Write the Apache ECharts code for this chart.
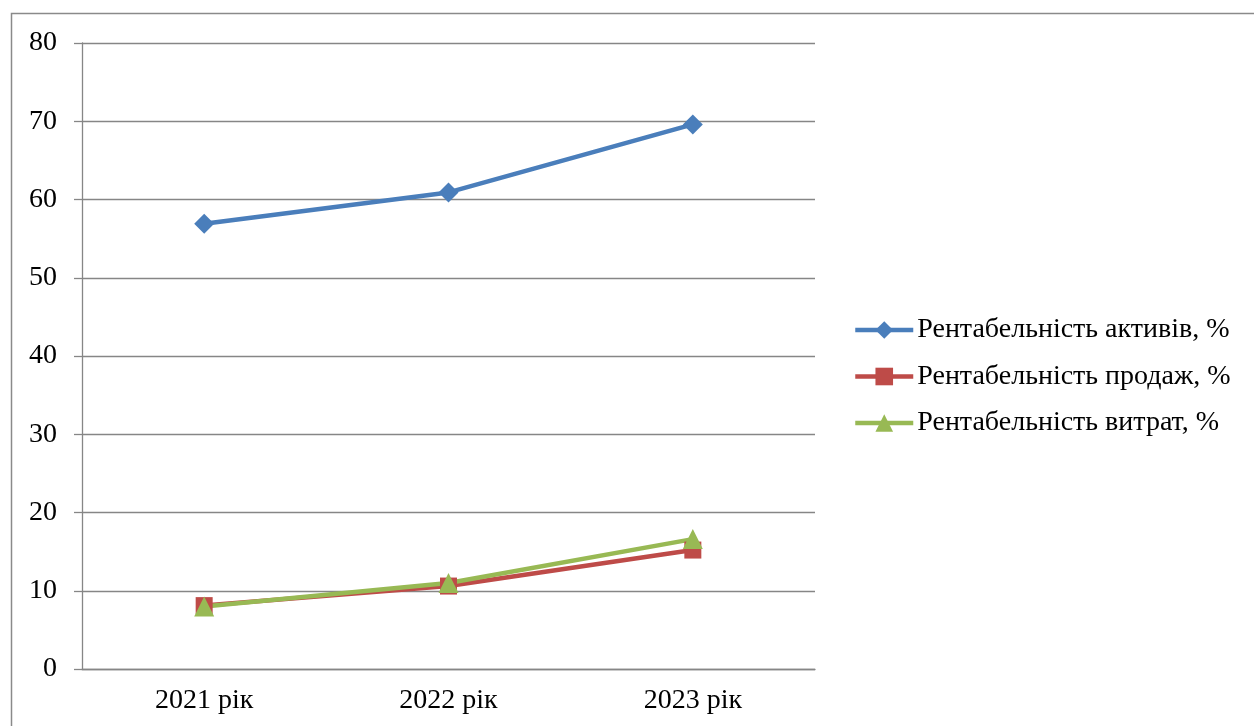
<!DOCTYPE html>
<html><head><meta charset="utf-8">
<script src="https://cdn.jsdelivr.net/npm/echarts@6/dist/echarts.min.js"></script>
<style>html,body{margin:0;padding:0;background:#fff}#c{width:1254px;height:726px}</style>
</head><body><div id="c"></div>
<script>
const categories = ['2021 рік', '2022 рік', '2023 рік'];
const seriesNames = ['Рентабельність активів, %', 'Рентабельність продаж, %', 'Рентабельність витрат, %'];
const assets = [56.9, 60.9, 69.6];
const sales = [8.1, 10.6, 15.2];
const costs = [8.0, 11.0, 16.6];
const yTicks = {min: 0, max: 80, interval: 10};

const FONT = 'Liberation Serif';
const FS = 28;
const chart = echarts.init(document.getElementById('c'));
chart.setOption({
  animation: false,
  textStyle: {fontFamily: FONT},
  graphic: [{type: 'rect', left: 9, top: 11, shape: {width: 1300, height: 800},
    style: {fill: 'none', stroke: '#8a8a8a', lineWidth: 1.5}, silent: true}],
  grid: {left: 82, top: 43, width: 733, height: 626},
  legend: {
    orient: 'vertical', left: 853, top: 315, padding: 0, itemWidth: 58, itemHeight: 22, itemGap: 16.5,
    lineStyle: {width: 4.5},
    textStyle: {fontFamily: FONT, fontSize: FS, lineHeight: 30, color: '#000', padding: [0, 0, 0, -1]},
    data: seriesNames
  },
  xAxis: {
    type: 'category', data: categories, boundaryGap: true,
    axisLine: {lineStyle: {color: '#868686', width: 1.3}},
    axisTick: {length: 9, lineStyle: {color: '#868686', width: 1.3}},
    axisLabel: {color: '#000', fontSize: FS, fontFamily: FONT, margin: 18}
  },
  yAxis: {
    type: 'value', min: yTicks.min, max: yTicks.max, interval: yTicks.interval,
    axisLine: {show: true, lineStyle: {color: '#868686', width: 1.3}},
    axisTick: {show: true, length: 8, lineStyle: {color: '#868686', width: 1.3}},
    splitLine: {lineStyle: {color: '#868686', width: 1.3}},
    axisLabel: {color: '#000', fontSize: FS, fontFamily: FONT, margin: 25}
  },
  series: [
    {name: seriesNames[0], type: 'line', data: assets, symbol: 'diamond', symbolSize: 20,
      lineStyle: {color: '#4A7EBB', width: 4.5}, itemStyle: {color: '#4A7EBB'}},
    {name: seriesNames[1], type: 'line', data: sales, symbol: 'rect', symbolSize: 17,
      lineStyle: {color: '#BE4B48', width: 4.5}, itemStyle: {color: '#BE4B48'}},
    {name: seriesNames[2], type: 'line', data: costs, symbol: 'triangle', symbolSize: 20,
      lineStyle: {color: '#98B954', width: 4.5}, itemStyle: {color: '#98B954'}}
  ]
});
</script></body></html>
